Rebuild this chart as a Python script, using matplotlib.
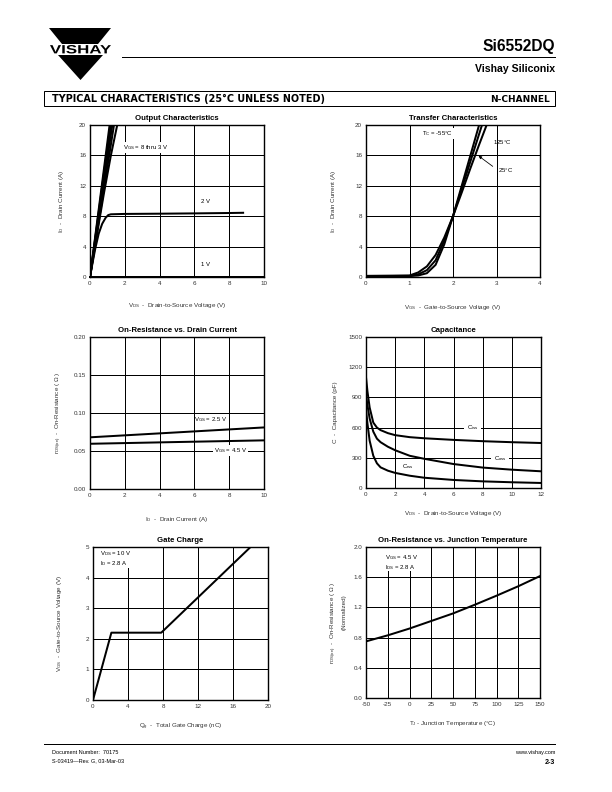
import matplotlib
matplotlib.use('Agg')
import matplotlib.pyplot as plt
from matplotlib.patches import Polygon, Rectangle, PathPatch
from matplotlib.textpath import TextPath
from matplotlib.font_manager import FontProperties
from matplotlib.transforms import Affine2D
from matplotlib.lines import Line2D

plt.rcParams['font.family'] = ['Liberation Sans', 'DejaVu Sans']
plt.rcParams['mathtext.default'] = 'regular'

# ---------------- data ----------------
# Output characteristics (ID vs VDS)
out_vds_8v = [0.0, 1.16]; out_id_8v = [0.0, 20.6]
out_vds_7v = [0.0, 1.21]; out_id_7v = [0.0, 20.6]
out_vds_6v = [0.0, 1.26]; out_id_6v = [0.0, 20.6]
out_vds_5v = [0.0, 1.32]; out_id_5v = [0.0, 20.6]
out_vds_4v = [0.0, 1.42]; out_id_4v = [0.0, 20.6]
out_vds_3v = [0.0, 0.4, 0.8, 1.2, 1.62]; out_id_3v = [0.0, 5.6, 11.0, 16.0, 20.6]
out_vds_2v = [0.0, 0.15, 0.3, 0.5, 0.7, 0.9, 1.05, 1.2, 2.0, 4.0, 6.0, 8.0, 8.8]
out_id_2v = [0.0, 1.9, 3.7, 5.7, 7.0, 7.8, 8.15, 8.25, 8.3, 8.33, 8.37, 8.42, 8.45]
out_vds_1v = [0.0, 10.0]; out_id_1v = [0.0, 0.0]

# Transfer characteristics (ID vs VGS)
tr_vgs_m55 = [0.0, 1.0, 1.2, 1.4, 1.6, 1.8, 2.0, 2.2, 2.4, 2.6, 2.65]
tr_id_m55 = [0.1, 0.12, 0.2, 0.5, 1.6, 4.3, 8.0, 12.0, 16.0, 20.0, 21.0]
tr_vgs_25 = [0.0, 1.0, 1.2, 1.4, 1.6, 1.8, 2.0, 2.2, 2.4, 2.6, 2.75]
tr_id_25 = [0.1, 0.15, 0.35, 0.9, 2.2, 4.8, 8.0, 11.6, 15.2, 18.8, 21.5]
tr_vgs_125 = [0.0, 1.0, 1.2, 1.4, 1.6, 1.8, 2.0, 2.2, 2.4, 2.6, 2.8, 2.9]
tr_id_125 = [0.15, 0.2, 0.6, 1.4, 2.9, 5.2, 8.0, 11.1, 14.3, 17.4, 20.4, 21.9]

# On-resistance vs drain current
ron_id = [0.0, 5.0, 10.0]
ron_vgs25 = [0.068, 0.0745, 0.081]
ron_vgs45 = [0.0595, 0.0618, 0.064]

# Capacitance
cap_vds = [0, 0.1, 0.25, 0.5, 0.75, 1, 1.5, 2, 3, 4, 6, 8, 10, 12]
cap_ciss = [1100, 960, 800, 650, 600, 575, 545, 525, 505, 494, 478, 465, 455, 447]
cap_coss = [930, 820, 690, 560, 490, 455, 410, 375, 320, 290, 238, 203, 182, 166]
cap_crss = [780, 640, 470, 320, 245, 205, 172, 150, 122, 102, 80, 66, 57, 50]

# Gate charge
gc_qg = [0.0, 2.1, 7.8, 18.3]
gc_vgs = [0.0, 2.2, 2.2, 5.08]

# On-resistance vs junction temperature
rt_tj = [-50, -25, 0, 25, 50, 75, 100, 125, 150]
rt_r = [0.75, 0.83, 0.92, 1.02, 1.12, 1.235, 1.355, 1.48, 1.615]

# tick labels
t1_x = [0, 2, 4, 6, 8, 10]; t1_y = [0, 4, 8, 12, 16, 20]
t2_x = [0, 1, 2, 3, 4]; t2_y = [0, 4, 8, 12, 16, 20]
t3_x = [0, 2, 4, 6, 8, 10]; t3_y = [0.0, 0.05, 0.10, 0.15, 0.20]
t3_ylab = ['0.00', '0.05', '0.10', '0.15', '0.20']
t4_x = [0, 2, 4, 6, 8, 10, 12]; t4_y = [0, 300, 600, 900, 1200, 1500]
t5_x = [0, 4, 8, 12, 16, 20]; t5_y = [0, 1, 2, 3, 4, 5]
t6_x = [-50, -25, 0, 25, 50, 75, 100, 125, 150]
t6_xlab = ['-50', '-25', '0', '25', '50', '75', '100', '125', '150']
t6_y = [0.0, 0.4, 0.8, 1.2, 1.6, 2.0]
t6_ylab = ['0.0', '0.4', '0.8', '1.2', '1.6', '2.0']

# ---------------- figure ----------------
W, H = 612, 792
fig = plt.figure(figsize=(W / 72, H / 72), dpi=72)

ov = fig.add_axes([0, 0, 1, 1])
ov.set_xlim(0, W); ov.set_ylim(H, 0); ov.axis('off')

LBL = '#333333'
LW = 2.0
TFS = 6.3   # tick font size
AFS = 6.3   # axis label font size
NFS = 6.0   # annotation font size

def add_ax(l, t, r, b):
    return fig.add_axes([l / W, 1 - b / H, (r - l) / W, (b - t) / H])

def style(ax, xt, yt, title, xlabel, ylabel, xlab_dy, ylab_dx, xtl=None, ytl=None):
    ax.set_xlim(xt[0], xt[-1]); ax.set_ylim(yt[0], yt[-1])
    ax.set_xticks(xt); ax.set_yticks(yt)
    if xtl is not None:
        ax.set_xticklabels(xtl)
    if ytl is not None:
        ax.set_yticklabels(ytl)
    ax.grid(True, color='black', lw=1.0)
    ax.set_axisbelow(True)
    ax.tick_params(length=0, labelsize=TFS, pad=4.0, colors=LBL)
    for sp in ax.spines.values():
        sp.set_linewidth(1.4)
    ax.set_title(title, fontsize=7.8, fontweight='bold', pad=4.5)
    bb = ax.get_position()
    wpx = bb.width * W; hpx = bb.height * H
    ax.set_xlabel(xlabel, fontsize=AFS, color=LBL)
    ax.xaxis.label.set_va('center')
    ax.xaxis.set_label_coords(0.5, -xlab_dy / hpx)
    if ylabel is not None:
        ax.set_ylabel(ylabel, fontsize=AFS, color=LBL)
        ax.yaxis.label.set_va('center')
        ax.yaxis.set_label_coords(-ylab_dx / wpx, 0.5)

WB = dict(facecolor='white', edgecolor='none', pad=1.0)

# 1. Output characteristics
a1 = add_ax(90, 125, 264, 277)
for xs, ys in [(out_vds_8v, out_id_8v), (out_vds_7v, out_id_7v), (out_vds_6v, out_id_6v),
               (out_vds_5v, out_id_5v), (out_vds_4v, out_id_4v), (out_vds_3v, out_id_3v),
               (out_vds_2v, out_id_2v)]:
    a1.plot(xs, ys, color='black', lw=LW)
a1.plot(out_vds_1v, out_id_1v, color='black', lw=LW, clip_on=False)
style(a1, t1_x, t1_y, 'Output Characteristics',
      r'V$_{DS}$  -  Drain-to-Source Voltage (V)', r'I$_D$  -  Drain Current (A)', 28, 28)
a1.text(1.9, 17.0, r'V$_{GS}$ = 8 thru 3 V', fontsize=NFS, va='center', bbox=WB)
a1.text(6.4, 9.9, '2 V', fontsize=NFS, va='center')
a1.text(6.4, 1.7, '1 V', fontsize=NFS, va='center')

# 2. Transfer characteristics
a2 = add_ax(366, 125, 540, 277)
for xs, ys in [(tr_vgs_m55, tr_id_m55), (tr_vgs_25, tr_id_25), (tr_vgs_125, tr_id_125)]:
    a2.plot(xs, ys, color='black', lw=LW)
style(a2, t2_x, t2_y, 'Transfer Characteristics',
      r'V$_{GS}$  -  Gate-to-Source Voltage (V)', r'I$_D$  -  Drain Current (A)', 30, 32)
a2.text(1.28, 18.9, r'T$_C$ = -55$\degree$C', fontsize=NFS, va='center', bbox=WB)
a2.text(2.93, 17.7, r'125$\degree$C', fontsize=NFS, va='center')
a2.text(3.04, 14.1, r'25$\degree$C', fontsize=NFS, va='center')
a2.annotate('', xy=(2.55, 16.1), xytext=(2.95, 14.4),
            arrowprops=dict(arrowstyle='-|>', color='black', lw=0.8, mutation_scale=6))

# 3. On-resistance vs drain current
a3 = add_ax(90, 337, 264, 489)
a3.plot(ron_id, ron_vgs25, color='black', lw=LW)
a3.plot(ron_id, ron_vgs45, color='black', lw=LW)
style(a3, t3_x, t3_y, 'On-Resistance vs. Drain Current',
      r'I$_D$  -  Drain Current (A)', r'r$_{DS(on)}$  -  On-Resistance ( $\Omega$ )', 31, 31,
      ytl=t3_ylab)
a3.text(5.97, 0.092, r'V$_{GS}$ = 2.5 V', fontsize=NFS, va='center')
a3.text(7.1, 0.0505, r'V$_{GS}$ = 4.5 V', fontsize=NFS, va='center', bbox=WB)

# 4. Capacitance
a4 = add_ax(366, 337, 541, 488)
for ys in [cap_ciss, cap_coss, cap_crss]:
    a4.plot(cap_vds, ys, color='black', lw=LW)
style(a4, t4_x, t4_y, 'Capacitance',
      r'V$_{DS}$  -  Drain-to-Source Voltage (V)', r'C  -  Capacitance (pF)', 25, 30)
a4.text(6.9, 603, r'C$_{iss}$', fontsize=NFS, va='center', bbox=dict(facecolor='white', edgecolor='none', pad=2.5))
a4.text(8.75, 290, r'C$_{oss}$', fontsize=NFS, va='center', bbox=dict(facecolor='white', edgecolor='none', pad=2.5))
a4.text(2.45, 214, r'C$_{rss}$', fontsize=NFS, va='center')

# 5. Gate charge
a5 = add_ax(93, 547, 268, 700)
a5.plot(gc_qg, gc_vgs, color='black', lw=LW)
style(a5, t5_x, t5_y, 'Gate Charge',
      r'Q$_g$  -  Total Gate Charge (nC)', r'V$_{GS}$  -  Gate-to-Source Voltage (V)', 27, 33)
a5.add_patch(Rectangle((0.5, 4.3), 4.0, 0.69, facecolor='white', edgecolor='none', zorder=1))
a5.text(0.84, 4.62, 'V$_{DS}$ = 10 V\nI$_D$ = 2.8 A', fontsize=NFS, va='center', linespacing=1.1, zorder=3)

# 6. On-resistance vs junction temperature
a6 = add_ax(366, 547, 540, 698)
a6.plot(rt_tj, rt_r, color='black', lw=LW)
style(a6, t6_x, t6_y, 'On-Resistance vs. Junction Temperature',
      r'T$_J$ - Junction Temperature ($\degree$C)', None, 25, 0, xtl=t6_xlab, ytl=t6_ylab)
a6.add_patch(Rectangle((-33, 1.68), 48, 0.315, facecolor='white', edgecolor='none', zorder=1))
a6.text(-28.2, 1.795, 'V$_{GS}$ = 4.5 V\nI$_{DS}$ = 2.8 A', fontsize=NFS, va='center', linespacing=1.1, zorder=3)
ov.text(334, 622.5, r'r$_{DS(on)}$  -  On-Resistance ( $\Omega$ )', rotation=90, fontsize=AFS,
        color=LBL, ha='center', va='center')
ov.text(344, 612.5, '(Normalized)', rotation=90, fontsize=AFS, color=LBL, ha='center', va='center')

# ---------------- page decorations ----------------
# logo
ov.add_patch(Polygon([(49, 28), (111, 28), (98, 44), (62, 44)], closed=True, color='black', lw=0))
ov.add_patch(Polygon([(58, 55), (103, 55), (80.5, 80)], closed=True, color='black', lw=0))
fp = FontProperties(family='Liberation Sans', weight='bold')
tp = TextPath((0, 0), 'VISHAY', size=10, prop=fp)
ext = tp.get_extents()
sx = 61 / ext.width; sy = 8.5 / ext.height
tr = Affine2D().translate(-ext.x0, -ext.y0).scale(sx, -sy).translate(50, 53.5)
ov.add_patch(PathPatch(tr.transform_path(tp), color='black', lw=0))

ov.add_line(Line2D([122, 555], [57, 57], color='black', lw=1.0))
ov.text(555, 50.5, 'Si6552DQ', fontsize=15.5, fontweight='bold', ha='right', va='baseline')
ov.text(555, 71.5, 'Vishay Siliconix', fontsize=10.5, fontweight='bold', ha='right', va='baseline')

ov.add_patch(Rectangle((44, 91), 511, 15, fill=False, edgecolor='black', lw=1.0))
ov.text(52, 102.3, 'TYPICAL CHARACTERISTICS (25\u00b0C UNLESS NOTED)', fontsize=9.6, fontweight='bold',
        ha='left', va='baseline', family=['DejaVu Sans'])
ov.text(550, 102.3, 'N-CHANNEL', fontsize=9.0, fontweight='bold', ha='right', va='baseline',
        family=['DejaVu Sans'])

ov.add_line(Line2D([44, 555], [744, 744], color='black', lw=1.0))
ov.text(52, 754, 'Document Number:  70175', fontsize=5.5, ha='left', va='baseline')
ov.text(52, 762, 'S-03419\u2014Rev. G, 03-Mar-03', fontsize=5.5, ha='left', va='baseline')
ov.text(555, 754, 'www.vishay.com', fontsize=5.5, ha='right', va='baseline')
ov.text(555, 763.5, '2-3', fontsize=7, fontweight='bold', ha='right', va='baseline')

fig.savefig('out.png', dpi=72)
